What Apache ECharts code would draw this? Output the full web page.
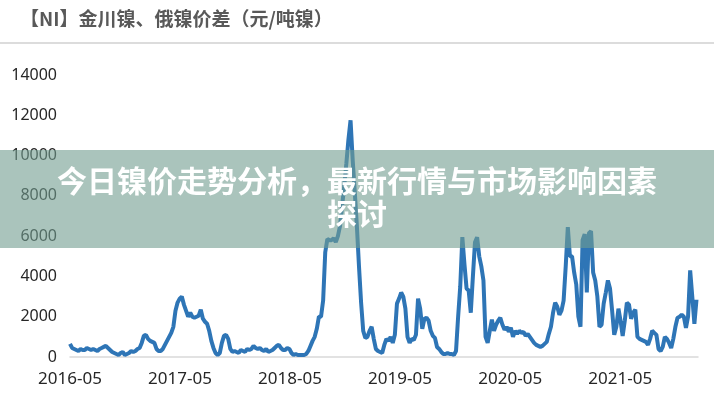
<!DOCTYPE html>
<html>
<head>
<meta charset="utf-8">
<script src="https://cdn.jsdelivr.net/npm/echarts@6/dist/echarts.min.js"></script>
<style>html,body{margin:0;padding:0;background:#fff;}#c{width:714px;height:400px;}</style>
</head>
<body>
<div id="c"></div>
<script>
// ---- data ----
const chartTitle = '【NI】金川镍、俄镍价差（元/吨镍）';
const bannerLines = ['今日镍价走势分析，最新行情与市场影响因素', '探讨'];
const seriesStart = [2016, 4, 1];      // first weekly observation (2016-05-01)
const weekCount = 298;                 // weekly observations
const xTickLabels = ['2016-05', '2017-05', '2018-05', '2019-05', '2020-05', '2021-05'];
const yTicks = [0, 2000, 4000, 6000, 8000, 10000, 12000, 14000];
// weekly spread values (元/吨镍)
const spread = [
  650, 450, 400, 350, 300, 400, 350, 350, 450, 400,
  350, 400, 350, 300, 400, 450, 500, 550, 450, 350,
  250, 200, 150, 100, 200, 250, 100, 150, 200, 300,
  250, 300, 400, 450, 700, 1050, 1100, 900, 800, 750,
  700, 400, 300, 300, 400, 600, 800, 1000, 1200, 1500,
  2300, 2700, 2900, 3000, 2600, 2300, 2000, 2200, 2000, 1950,
  2000, 2050, 2350, 1900, 1750, 1650, 1300, 800, 450, 200,
  100, 200, 700, 1050, 1100, 900, 400, 250, 300, 250,
  200, 350, 300, 250, 400, 350, 400, 550, 450, 400,
  450, 350, 300, 400, 250, 300, 350, 450, 550, 600,
  450, 350, 350, 450, 400, 200, 100, 150, 100, 100,
  100, 100, 150, 300, 550, 800, 1000, 1400, 2000, 2000,
  2800, 5200, 5850, 5800, 5800, 5900, 5700, 6000, 6500, 7500,
  8500, 9600, 10800, 11750, 9800, 8200, 6500, 4500, 2700, 1300,
  950, 1000, 1300, 1500, 900, 400, 300, 250, 200, 600,
  900, 800, 1000, 700, 1100, 2650, 2900, 3200, 3000, 2400,
  1000, 700, 900, 850, 1100, 2900, 2400, 1400, 1900, 1950,
  1800, 1300, 1050, 950, 500, 400, 250, 150, 150, 200,
  150, 150, 100, 300, 2000, 3500, 5950, 4600, 3400, 3300,
  2200, 4000, 5700, 5950, 5000, 4500, 3800, 1000, 700, 1300,
  1850, 1300, 1600, 1800, 1950, 1600, 1350, 1500, 1250, 1450,
  1000, 1300, 1150, 1300, 1200, 1250, 1050, 1150, 1000, 850,
  700, 600, 550, 500, 550, 650, 750, 1150, 1500, 2200,
  2700, 2500, 2100, 2300, 2800, 4500, 6450, 5000, 5000, 4200,
  3600, 2000, 1500, 5800, 6100, 3200, 6150, 6250, 4200, 3800,
  3000, 1500, 1600, 2650, 3200, 3800, 3400, 2300, 1100, 1500,
  2400, 1800, 1050, 1800, 2700, 2600, 1900, 2200, 2350, 1000,
  900, 850, 800, 750, 600, 900, 1300, 1200, 1100, 400,
  300, 500, 1000, 900, 700, 450, 900, 1500, 1950, 2000,
  2100, 2000, 1450, 2000, 4300, 3000, 1650, 2850
];

// ---- build ----
const weekDates = [];
for (let k = 0; k < weekCount; k++) {
  weekDates.push(new Date(seriesStart[0], seriesStart[1], seriesStart[2] + 7 * k).getTime());
}
const seriesData = weekDates.map((d, i) => [d, spread[i]]);
const tickValues = xTickLabels.map(s => {
  const p = s.split('-');
  return new Date(+p[0], +p[1] - 1, 1).getTime();
});
const xMin = new Date(seriesStart[0], seriesStart[1], seriesStart[2]).getTime();
const xMax = new Date(2022, 0, 14).getTime();

const chart = echarts.init(document.getElementById('c'), null, {renderer: 'canvas'});
chart.setOption({
  animation: false,
  backgroundColor: '#ffffff',
  grid: {left: 70, right: 16, top: 75, bottom: 43, containLabel: false},
  xAxis: {
    type: 'value',
    min: xMin,
    max: xMax,
    axisLine: {show: true, lineStyle: {color: '#d9d9d9', width: 1.5}},
    axisTick: {show: false},
    splitLine: {show: false},
    axisLabel: {
      customValues: tickValues,
      margin: 14,
      color: '#262626',
      fontSize: 17,
      fontFamily: 'Noto Sans',
      formatter: function (v) {
        const d = new Date(v);
        return d.getFullYear() + '-' + String(d.getMonth() + 1).padStart(2, '0');
      }
    }
  },
  yAxis: {
    type: 'value',
    min: yTicks[0],
    max: yTicks[yTicks.length - 1],
    interval: 2000,
    axisLine: {show: false},
    axisTick: {show: false},
    splitLine: {show: false},
    axisLabel: {margin: 13, color: '#262626', fontSize: 16, fontFamily: 'Noto Sans',
      formatter: function (v) { return String(v); }}
  },
  series: [{
    type: 'line',
    data: seriesData,
    showSymbol: false,
    lineStyle: {color: '#2E75B6', width: 4},
    itemStyle: {color: '#2E75B6'}
  }],
  graphic: [
    {type: 'text', left: 20, top: 9, z: 10,
     style: {text: chartTitle, fill: '#595959', font: 'bold 19px "Noto Sans CJK SC"'}},
    {type: 'rect', left: 0, top: 42, z: 10, shape: {width: 714, height: 2}, style: {fill: '#dcdcdc'}},
    {type: 'rect', left: 0, top: 150, z: 100, shape: {width: 714, height: 98},
     style: {fill: 'rgba(113,157,143,0.6)'}},
    {type: 'text', left: 'center', top: 166, z: 101,
     style: {text: bannerLines[0], fill: '#ffffff', font: 'bold 30px "Noto Sans CJK SC"'}},
    {type: 'text', left: 'center', top: 199, z: 101,
     style: {text: bannerLines[1], fill: '#ffffff', font: 'bold 30px "Noto Sans CJK SC"'}}
  ]
});
</script>
</body>
</html>
